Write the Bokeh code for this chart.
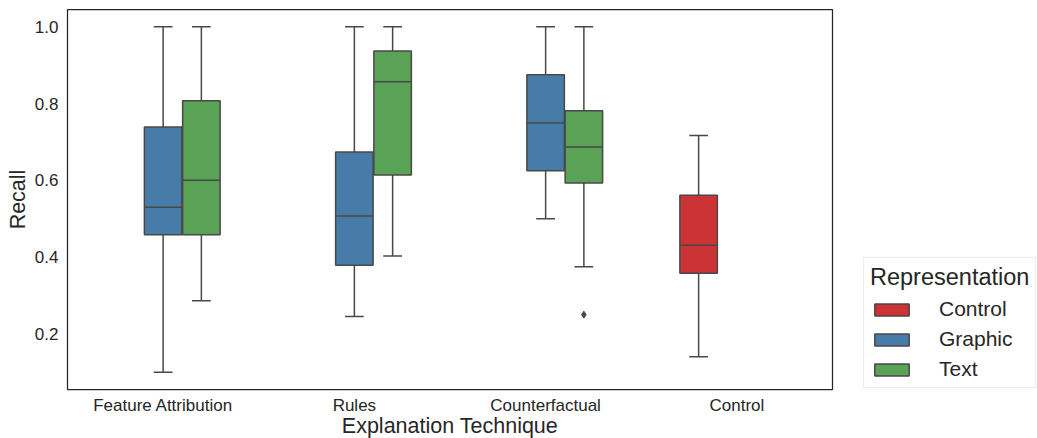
from bokeh.plotting import figure
from bokeh.models import (ColumnDataSource, Range1d, FixedTicker, Legend, LegendItem,
                          PrintfTickFormatter)
from bokeh.embed import file_html
from bokeh.resources import INLINE

# ---- data ----
categories = ["Feature Attribution", "Rules", "Counterfactual", "Control"]
hues = ["Control", "Graphic", "Text"]
hue_colors = ["#cb3335", "#477ca8", "#59a256"]
hue_offsets = [-0.2, 0.0, 0.2]

box_category = ["Feature Attribution", "Feature Attribution", "Rules", "Rules",
                "Counterfactual", "Counterfactual", "Control"]
box_hue = ["Graphic", "Text", "Graphic", "Text", "Graphic", "Text", "Control"]
whisker_low = [0.100, 0.286, 0.245, 0.403, 0.500, 0.375, 0.140]
q1 = [0.458, 0.458, 0.379, 0.614, 0.625, 0.593, 0.358]
median = [0.530, 0.600, 0.507, 0.857, 0.749, 0.687, 0.431]
q3 = [0.739, 0.807, 0.674, 0.937, 0.875, 0.781, 0.561]
whisker_high = [1.000, 1.000, 1.000, 1.000, 1.000, 1.000, 0.717]

outlier_category = ["Counterfactual"]
outlier_hue = ["Text"]
outlier_value = [0.25]

y_ticks = [0.2, 0.4, 0.6, 0.8, 1.0]

# ---- styling ----
FONT = "Liberation Sans"
TXT = "#262626"
GRAY = "#484848"
BOX_W = 0.196

p = figure(frame_width=765, frame_height=380, output_backend="svg", toolbar_location=None,
           x_range=Range1d(-0.5, 3.5), y_range=Range1d(0.055, 1.045),
           min_border_left=67, min_border_right=205, min_border_top=9, min_border_bottom=49)
p.background_fill_color = "white"
p.border_fill_color = "white"
p.outline_line_color = "#262626"
p.outline_line_width = 1.25
p.xgrid.visible = False
p.ygrid.visible = False

def xpos(cat, hue):
    return categories.index(cat) + hue_offsets[hues.index(hue)]

legend_items = []
for hue, color in zip(hues, hue_colors):
    idx = [i for i, h in enumerate(box_hue) if h == hue]
    xs = [xpos(box_category[i], hue) for i in idx]
    src = ColumnDataSource(dict(
        x=xs,
        x0=[x - BOX_W / 2 for x in xs],
        x1=[x + BOX_W / 2 for x in xs],
        c0=[x - BOX_W / 4 for x in xs],
        c1=[x + BOX_W / 4 for x in xs],
        lo=[whisker_low[i] for i in idx],
        q1=[q1[i] for i in idx],
        med=[median[i] for i in idx],
        q3=[q3[i] for i in idx],
        hi=[whisker_high[i] for i in idx],
    ))
    # whiskers
    p.segment(x0="x", y0="lo", x1="x", y1="q1", source=src, line_color=GRAY, line_width=1.5)
    p.segment(x0="x", y0="q3", x1="x", y1="hi", source=src, line_color=GRAY, line_width=1.5)
    # caps
    p.segment(x0="c0", y0="lo", x1="c1", y1="lo", source=src, line_color=GRAY, line_width=1.5)
    p.segment(x0="c0", y0="hi", x1="c1", y1="hi", source=src, line_color=GRAY, line_width=1.5)
    # box
    r = p.vbar(x="x", width=BOX_W, bottom="q1", top="q3", source=src,
               fill_color=color, line_color=GRAY, line_width=1.5)
    # median
    p.segment(x0="x0", y0="med", x1="x1", y1="med", source=src, line_color=GRAY, line_width=1.5)
    legend_items.append(LegendItem(label=hue, renderers=[r]))

out_src = ColumnDataSource(dict(
    x=[xpos(c, h) for c, h in zip(outlier_category, outlier_hue)],
    y=outlier_value))
p.scatter(x="x", y="y", source=out_src, marker="diamond", size=7,
          fill_color=GRAY, line_color=GRAY)

# ---- axes ----
for ax in (p.xaxis[0], p.yaxis[0]):
    ax.axis_line_color = None
    ax.major_tick_line_color = None
    ax.minor_tick_line_color = None
    ax.major_tick_out = 0
    ax.major_tick_in = 0
    ax.major_label_text_font = FONT
    ax.major_label_text_font_size = "17px"
    ax.major_label_text_color = TXT
    ax.axis_label_text_font = FONT
    ax.axis_label_text_font_size = "21.5px"
    ax.axis_label_text_font_style = "normal"
    ax.axis_label_text_color = TXT

p.xaxis.ticker = FixedTicker(ticks=list(range(len(categories))))
p.xaxis.major_label_overrides = {i: c for i, c in enumerate(categories)}
p.xaxis.axis_label = "Explanation Technique"
p.xaxis.major_label_standoff = 6
p.xaxis.axis_label_standoff = -4

p.yaxis.ticker = FixedTicker(ticks=y_ticks)
p.yaxis.formatter = PrintfTickFormatter(format="%.1f")
p.yaxis.axis_label = "Recall"
p.yaxis.major_label_standoff = 9
p.yaxis.axis_label_standoff = 2

legend = Legend(items=legend_items, location=(31, 1), title="Representation",
                title_text_font=FONT, title_text_font_size="23.5px",
                title_text_font_style="normal", title_text_color=TXT,
                title_standoff=6,
                label_text_font=FONT, label_text_font_size="21px", label_text_color=TXT,
                glyph_width=43, glyph_height=15, label_standoff=26,
                label_height=24, spacing=6, padding=6, margin=16,
                border_line_color="#d9d9d9", border_line_width=1,
                background_fill_color="white", background_fill_alpha=1.0)
p.add_layout(legend, "right")

open("out.html", "w").write(file_html(p, INLINE))
